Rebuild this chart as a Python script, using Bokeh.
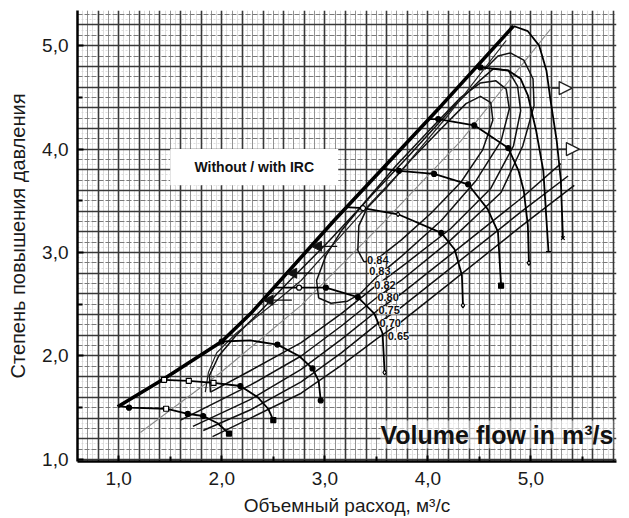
import numpy as np
from bokeh.plotting import figure
from bokeh.models import (Range1d, FixedTicker, Grid, BoxAnnotation, Label, Arrow,
                          NormalHead, ColumnDataSource)
from bokeh.embed import file_html
from bokeh.resources import INLINE

# ---------------- data ----------------
x_ticks = [1, 2, 3, 4, 5]
x_tick_labels = ["1,0", "2,0", "3,0", "4,0", "5,0"]
y_ticks = [1, 2, 3, 4, 5]
y_tick_labels = ["1,0", "2,0", "3,0", "4,0", "5,0"]

# surge line with IRC (thick) and original surge line (thin)
surge_irc_x = [0.99, 1.44, 2.00, 2.28, 3.09, 4.13, 4.83]
surge_irc_y = [1.51, 1.78, 2.14, 2.41, 3.31, 4.42, 5.19]
surge_orig_x = [1.84, 1.87, 1.95, 2.14, 2.48, 2.77, 3.38, 3.74, 4.19, 4.76]
surge_orig_y = [1.65, 1.84, 2.03, 2.22, 2.49, 2.73, 3.41, 3.79, 4.32, 5.05]

# speed lines
sl1_x = [1.00, 1.10, 1.46, 1.67, 1.82, 1.96, 2.07]
sl1_y = [1.52, 1.50, 1.49, 1.44, 1.42, 1.35, 1.25]
sl2_x = [1.44, 1.68, 1.92, 2.18, 2.35, 2.45, 2.50]
sl2_y = [1.77, 1.76, 1.74, 1.71, 1.60, 1.49, 1.38]
sl3_x = [2.00, 2.28, 2.54, 2.75, 2.88, 2.94, 2.96]
sl3_y = [2.14, 2.15, 2.11, 2.00, 1.88, 1.76, 1.57]
sl4_x = [2.50, 2.75, 3.01, 3.32, 3.48, 3.56, 3.58]
sl4_y = [2.66, 2.66, 2.66, 2.57, 2.41, 2.22, 1.84]
sl5_x = [3.20, 3.37, 3.71, 4.13, 4.26, 4.33, 4.34]
sl5_y = [3.44, 3.43, 3.37, 3.19, 3.03, 2.78, 2.49]
sl6_x = [3.56, 3.72, 4.06, 4.39, 4.58, 4.68, 4.71]
sl6_y = [3.81, 3.79, 3.76, 3.66, 3.42, 3.20, 2.68]
sl7_x = [4.01, 4.10, 4.45, 4.78, 4.88, 4.93, 4.97, 4.98]
sl7_y = [4.29, 4.29, 4.23, 4.01, 3.79, 3.60, 3.26, 2.90]
sl8_x = [4.46, 4.51, 4.78, 4.90, 4.97, 5.05, 5.12, 5.17]
sl8_y = [4.78, 4.79, 4.76, 4.68, 4.52, 4.18, 3.79, 3.01]
sl9_x = [4.83, 4.97, 5.08, 5.15, 5.19, 5.25, 5.29, 5.31]
sl9_y = [5.19, 5.14, 5.00, 4.76, 4.47, 4.08, 3.70, 3.14]

# measured points on speed lines
mark_x = [1.10, 1.46, 1.67, 1.82, 2.07, 1.44, 1.68, 1.92, 2.18, 2.50,
          2.00, 2.54, 2.88, 2.96, 2.75, 3.01, 3.32, 3.58, 3.37, 3.71,
          4.13, 4.34, 3.72, 4.06, 4.39, 4.71, 4.10, 4.45, 4.78, 4.98,
          4.51, 5.17, 5.31]
mark_y = [1.50, 1.49, 1.44, 1.42, 1.25, 1.77, 1.76, 1.74, 1.71, 1.38,
          2.14, 2.11, 1.88, 1.57, 2.66, 2.66, 2.57, 1.84, 3.43, 3.37,
          3.19, 2.49, 3.79, 3.76, 3.66, 2.68, 4.29, 4.23, 4.01, 2.90,
          4.79, 3.01, 3.14]
mark_kind = ["circle", "square", "circle", "circle", "square",
             "square", "square", "square", "circle", "square",
             "circle", "circle", "circle", "circle",
             "circle", "circle", "circle", "diamond",
             "circle", "diamond", "circle", "diamond",
             "circle", "circle", "circle", "square",
             "circle", "circle", "circle", "diamond",
             "circle", "dash", "x"]
mark_open = [0, 1, 0, 0, 0, 1, 1, 1, 0, 0,
             0, 0, 0, 0, 1, 0, 0, 1, 1, 1,
             0, 1, 0, 0, 0, 0, 0, 0, 0, 1,
             0, 0, 0]

# efficiency contours
eff_labels = ["0.84", "0.83", "0.82", "0.80", "0.75", "0.70", "0.65"]
eff_label_x = [3.41, 3.43, 3.48, 3.51, 3.52, 3.53, 3.61]
eff_label_y = [2.93, 2.82, 2.69, 2.57, 2.44, 2.32, 2.19]

eff_084_x = [3.32, 3.38, 3.51, 3.74, 4.03, 4.32, 4.53, 4.63, 4.61, 4.51, 4.37, 4.13, 3.83, 3.59, 3.41, 3.33, 3.32]
eff_084_y = [3.02, 2.91, 2.94, 3.12, 3.38, 3.68, 3.99, 4.28, 4.45, 4.51, 4.44, 4.20, 3.89, 3.62, 3.43, 3.26, 3.02]
eff_083_x = [2.94, 3.06, 3.22, 3.34, 3.51, 3.74, 4.13, 4.47, 4.71, 4.79, 4.76, 4.66, 4.51, 4.32, 4.03, 3.69, 3.40, 3.16, 3.01, 2.92, 2.94]
eff_083_y = [2.56, 2.51, 2.53, 2.60, 2.77, 2.96, 3.31, 3.70, 4.08, 4.39, 4.58, 4.66, 4.64, 4.50, 4.20, 3.84, 3.50, 3.21, 2.97, 2.73, 2.56]
eff_082_x = [1.89, 2.28, 2.77, 3.16, 3.51, 3.74, 4.22, 4.61, 4.83, 4.90, 4.87, 4.78, 4.64, 4.50, 4.24, 3.82, 3.45, 3.02, 2.68, 2.38, 2.14, 1.97, 1.88, 1.89]
eff_082_y = [1.65, 1.86, 2.13, 2.41, 2.69, 2.86, 3.23, 3.62, 4.03, 4.37, 4.61, 4.76, 4.78, 4.66, 4.40, 3.94, 3.55, 3.09, 2.75, 2.44, 2.20, 2.00, 1.81, 1.65]
eff_080_x = [1.60, 2.28, 2.77, 3.16, 3.51, 3.74, 4.22, 4.71, 4.92, 5.03, 5.02, 4.93, 4.80, 4.68, 4.55]
eff_080_y = [1.38, 1.72, 2.00, 2.29, 2.57, 2.73, 3.12, 3.58, 4.03, 4.42, 4.68, 4.86, 4.93, 4.90, 4.77]
eff_075_x = [1.72, 2.28, 2.77, 3.16, 3.51, 3.74, 4.22, 4.90, 5.29]
eff_075_y = [1.32, 1.58, 1.87, 2.16, 2.44, 2.60, 2.98, 3.52, 3.86]
eff_070_x = [1.82, 2.28, 2.77, 3.16, 3.51, 3.74, 4.22, 4.90, 5.36]
eff_070_y = [1.28, 1.48, 1.75, 2.03, 2.31, 2.47, 2.85, 3.39, 3.74]
eff_065_x = [1.91, 2.28, 2.77, 3.16, 3.51, 3.74, 4.22, 4.90, 5.42]
eff_065_y = [1.22, 1.40, 1.64, 1.91, 2.17, 2.33, 2.71, 3.25, 3.65]

# thin grey diagonal line
grey_x = [1.21, 1.99, 2.77, 3.54, 4.32, 5.19]
grey_y = [1.26, 1.84, 2.49, 3.26, 4.08, 5.16]

# arrows: surge shift (pointing left) and choke shift (pointing right)
surge_arrow_y = [3.06, 2.80, 2.54]
surge_arrow_head_x = [2.87, 2.63, 2.40]
surge_arrow_tail_x = [3.12, 2.88, 2.68]
choke_arrow_y = [4.59, 4.00]
choke_arrow_tail_x = [5.20, 5.27]
choke_arrow_head_x = [5.40, 5.47]

# text box "Without / with IRC"
irc_box = dict(left=1.50, right=3.13, bottom=3.65, top=4.00)

# ---------------- figure ----------------
p = figure(width=629, height=518, x_range=Range1d(0.6, 5.83), y_range=Range1d(0.98, 5.34),
           output_backend="svg", toolbar_location=None,
           min_border_left=77, min_border_right=13, min_border_top=10, min_border_bottom=57)
p.outline_line_color = None
p.grid.grid_line_color = None
p.background_fill_color = "white"
p.border_fill_color = "white"

# graph-paper grid
def add_grid(dim, ticks, color, width, dash="solid", alpha=1.0):
    g = Grid(dimension=dim, ticker=FixedTicker(ticks=list(ticks)),
             grid_line_color=color, grid_line_width=width, grid_line_alpha=alpha,
             grid_line_dash=dash)
    p.add_layout(g)

fine_x = [round(v, 3) for v in np.arange(0.6, 5.85, 0.05)]
fine_y = [round(v, 3) for v in np.arange(1.0, 5.36, 0.05)]
mid_x = [round(v, 3) for v in np.arange(0.7, 5.85, 0.2)]
mid_y = [round(v, 3) for v in np.arange(1.1, 5.36, 0.2)]
maj_x = [round(v, 3) for v in np.arange(0.6, 5.85, 0.2)]
maj_y = [round(v, 3) for v in np.arange(1.0, 5.36, 0.2)]
add_grid(0, fine_x, "#d0d0d0", 0.7)
add_grid(1, fine_y, "#d0d0d0", 0.7, dash="2 2")
add_grid(0, mid_x, "#8a8a8a", 0.9)
add_grid(1, mid_y, "#7a7a7a", 1.1, dash="5 2")
add_grid(0, maj_x, "#383838", 1.6)
add_grid(1, maj_y, "#383838", 1.6)

# white box with caption
p.add_layout(BoxAnnotation(fill_color="white", fill_alpha=1.0, line_color=None, **irc_box))
p.add_layout(Label(x=(irc_box["left"] + irc_box["right"]) / 2, y=(irc_box["bottom"] + irc_box["top"]) / 2,
                   text="Without / with IRC", text_align="center", text_baseline="middle",
                   text_font="Liberation Sans", text_font_size="14px", text_font_style="bold",
                   text_color="#111111"))

# grey diagonal
p.line(grey_x, grey_y, line_color="#8c8c8c", line_width=1.1)

# efficiency contours
eff_xs = [eff_084_x, eff_083_x, eff_082_x, eff_080_x, eff_075_x, eff_070_x, eff_065_x]
eff_ys = [eff_084_y, eff_083_y, eff_082_y, eff_080_y, eff_075_y, eff_070_y, eff_065_y]
p.multi_line(xs=eff_xs, ys=eff_ys, line_color="#111111", line_width=1.5, line_join="round")

# original surge
p.line(surge_orig_x, surge_orig_y, line_color="#222222", line_width=1.2)

# speed lines
sl_xs = [sl1_x, sl2_x, sl3_x, sl4_x, sl5_x, sl6_x, sl7_x, sl8_x, sl9_x]
sl_ys = [sl1_y, sl2_y, sl3_y, sl4_y, sl5_y, sl6_y, sl7_y, sl8_y, sl9_y]
p.multi_line(xs=sl_xs, ys=sl_ys, line_color="black", line_width=1.8, line_join="round")

# surge with IRC
p.line(surge_irc_x, surge_irc_y, line_color="black", line_width=3.6)

# markers
msrc = ColumnDataSource(dict(x=mark_x, y=mark_y, kind=mark_kind,
                             fill=["white" if o else "black" for o in mark_open]))
p.scatter("x", "y", source=msrc, marker="kind", fill_color="fill", line_color="black",
          size=5, line_width=1.2)

# arrows
for yy, hx, tx in zip(surge_arrow_y, surge_arrow_head_x, surge_arrow_tail_x):
    p.add_layout(Arrow(end=NormalHead(size=10, fill_color="#111111", line_color="#111111"),
                       x_start=tx, y_start=yy, x_end=hx, y_end=yy,
                       line_color="#111111", line_width=1.4))
for yy, hx, tx in zip(choke_arrow_y, choke_arrow_head_x, choke_arrow_tail_x):
    p.add_layout(Arrow(end=NormalHead(size=13, fill_color="white", line_color="#222222", line_width=1.3),
                       x_start=tx, y_start=yy, x_end=hx, y_end=yy,
                       line_color="#222222", line_width=1.3))

# efficiency labels
for t, lx, ly in zip(eff_labels, eff_label_x, eff_label_y):
    p.add_layout(Label(x=lx, y=ly, text=t, text_align="left", text_baseline="middle",
                       text_font="Liberation Sans", text_font_size="11px", text_font_style="bold",
                       text_color="#111111", background_fill_color="white", background_fill_alpha=0.9))

# big caption
p.add_layout(Label(x=5.80, y=1.24, text="Volume flow in m³/s", text_align="right",
                   text_baseline="middle", text_font="Liberation Sans", text_font_size="25px",
                   text_font_style="bold", text_color="#111111",
                   background_fill_color="white", background_fill_alpha=0.55))

# axes
p.xaxis.ticker = FixedTicker(ticks=x_ticks, minor_ticks=[1.5, 2.5, 3.5, 4.5, 5.5])
p.yaxis.ticker = FixedTicker(ticks=y_ticks, minor_ticks=[1.5, 2.5, 3.5, 4.5])
p.xaxis.major_label_overrides = {t: l for t, l in zip(x_ticks, x_tick_labels)}
p.yaxis.major_label_overrides = {t: l for t, l in zip(y_ticks, y_tick_labels)}
p.xaxis.axis_label = "Объемный расход, м³/с"
p.yaxis.axis_label = "Степень повышения давления"
for ax in (p.xaxis[0], p.yaxis[0]):
    ax.axis_line_width = 2.5
    ax.axis_line_color = "black"
    ax.major_tick_in = 6
    ax.major_tick_out = 0
    ax.minor_tick_in = 5
    ax.minor_tick_out = 0
    ax.major_tick_line_width = 2
    ax.minor_tick_line_width = 2
    ax.major_tick_line_color = "black"
    ax.minor_tick_line_color = "black"
    ax.major_label_text_font = "Liberation Sans"
    ax.major_label_text_font_size = "19px"
    ax.major_label_text_color = "#1a1a1a"
    ax.axis_label_text_font = "Liberation Sans"
    ax.axis_label_text_font_style = "normal"
    ax.axis_label_text_color = "#1a1a1a"
p.xaxis.axis_label_text_font_size = "19px"
p.yaxis.axis_label_text_font_size = "20px"
p.xaxis.major_label_standoff = 10
p.xaxis.axis_label_standoff = 7
p.yaxis.major_label_standoff = 9
p.yaxis.axis_label_standoff = 10

open("out.html", "w").write(file_html(p, INLINE))
